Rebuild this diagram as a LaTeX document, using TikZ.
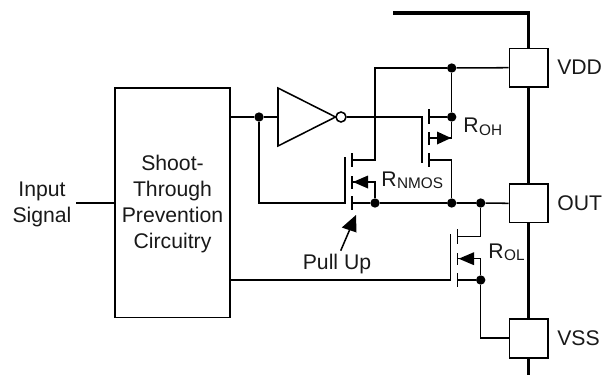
\documentclass[tikz,border=0pt]{standalone}
\usepackage{fontspec}
\setmainfont{Liberation Sans}
\usetikzlibrary{arrows.meta,calc}
\tikzset{
  wire/.style={line width=1.15pt,line cap=butt,black},
  bus/.style={line width=2.3pt,black},
  blockbox/.style={draw=black,line width=1.15pt,fill=white,inner sep=0pt,minimum width=29pt,minimum height=29pt},
  jn/.style={circle,fill=black,inner sep=0pt,minimum size=7pt},
  lbl/.style={inner sep=0pt,font=\fontsize{15.9}{19.5}\selectfont,text=black!90},
  sub/.style={inner sep=0pt,font=\fontsize{11.5}{13}\selectfont,text=black!90},
}
\begin{document}
\begin{tikzpicture}[x=0.75pt,y=-0.75pt]
\useasboundingbox (0,0) rectangle (602,375);
% bus
\coordinate (busStart) at (393,13);
\coordinate (busCorner) at (528.7,13);
\coordinate (busEnd) at (528.7,375);
\draw[bus] (busStart) -- (busCorner) -- (busEnd);
% pads
\node[blockbox] (vdd) at (528.7,67.7) {};
\node[blockbox] (out) at (528.7,203.3) {};
\node[blockbox] (vss) at (528.7,338.5) {};
\node[lbl,anchor=west] (vddL) at (557,67.7) {VDD};
\node[lbl,anchor=west] (outL) at (557,203.3) {OUT};
\node[lbl,anchor=west] (vssL) at (557,338.5) {VSS};
% main block
\node[draw=black,line width=1.15pt,fill=white,inner sep=0pt,minimum width=86.25pt,minimum height=172pt] (prev) at (172.5,202.6) {};
\node[lbl,align=center] (prevT) at (172.5,204) {Shoot-\\Through\\Prevention\\Circuitry};
\node[lbl,align=center] (inp) at (42,204.5) {Input\\Signal};
\coordinate (inpEnd) at (76,203);
\draw[wire] (inpEnd) -- (prev.west |- inpEnd);
% inverter
\coordinate (invA) at (278,88);
\coordinate (invB) at (278,146);
\coordinate (invC) at (335.5,117);
\coordinate (invIn) at (278,117);
\draw[wire] (invA) -- (invC) -- (invB) -- cycle;
\node[circle,draw=black,line width=1.15pt,fill=white,inner sep=0pt,minimum size=7.5pt] (bubble) at (341,117) {};
\node[jn] (jnA) at (259,117) {};
\coordinate (prevOut) at (230,117);
\draw[wire] (prevOut) -- (jnA) -- (invIn);
% high-side FET
\coordinate (hG) at (422,117);
\coordinate (hGb) at (422,163);
\coordinate (hD) at (429,117);
\coordinate (hA) at (429,138);
\coordinate (hS) at (429,160);
\node[jn] (jnVdd) at (451.7,68) {};
\node[jn] (jnH) at (451.7,117) {};
\coordinate (hAk) at (451.7,138);
\coordinate (hSk) at (451.7,160);
\node[jn] (jnOutA) at (451.7,203) {};
\node[jn] (jnOutB) at (480.7,203) {};
\node[jn] (jnR) at (375,203) {};
\draw[wire] (bubble.east) -- (hG) -- (hGb);
\foreach \ya/\yb in {109/124,132/145,153/167}{\draw[wire] (429,\ya) -- (429,\yb);}
\draw[wire] (hD) -- (jnH);
\draw[wire] (jnVdd) -- (jnH) -- (hAk);
\draw[wire] (hAk) -- (hA);
\fill (451,138) -- (437,131.5) -- (437,144.5) -- cycle;
\draw[wire] (hS) -- (hSk) -- (jnOutA);
% top rail
\coordinate (railL) at (375,68);
\coordinate (rNd) at (375,160);
\coordinate (rD) at (352,160);
\draw[wire] (vdd.west) -- (jnVdd) -- (railL) -- (rNd) -- (rD);
% pull-up FET
\coordinate (rG) at (345,203);
\coordinate (rGt) at (345,157);
\coordinate (rS) at (352,203);
\coordinate (rA) at (352,182);
\coordinate (rAk) at (375,182);
\coordinate (lp) at (259,203);
\draw[wire] (jnA) -- (lp) -- (rG) -- (rGt);
\foreach \ya/\yb in {153/167,176/189,196/210}{\draw[wire] (352,\ya) -- (352,\yb);}
\draw[wire] (rA) -- (rAk) -- (jnR);
\fill (353,182) -- (368,175.5) -- (368,188.5) -- cycle;
\draw[wire] (rS) -- (jnR) -- (jnOutA) -- (jnOutB) -- (out.west);
% low-side FET
\coordinate (lG) at (450.7,280);
\coordinate (lGt) at (450.7,234);
\coordinate (lD) at (457.7,236.7);
\coordinate (lDk) at (480.7,236.7);
\coordinate (lA) at (457.7,258.7);
\coordinate (lAk) at (480.7,258.7);
\coordinate (lS) at (457.7,280);
\node[jn] (jnL) at (480.7,280) {};
\coordinate (lV) at (480.7,338);
\coordinate (prevLow) at (230,280);
\draw[wire] (prevLow) -- (lG) -- (lGt);
\foreach \ya/\yb in {229/244,253/265,273/287}{\draw[wire] (457.7,\ya) -- (457.7,\yb);}
\draw[wire] (lD) -- (lDk) -- (jnOutB);
\draw[wire] (lA) -- (lAk) -- (jnL);
\fill (458.7,258.7) -- (474,252.2) -- (474,265.2) -- cycle;
\draw[wire] (lS) -- (jnL) -- (lV) -- (vss.west |- lV);
% labels
\node[lbl,anchor=base west] (rohR) at (463,132.7) {R};
\node[sub,anchor=base west,yshift=-2pt] at (rohR.base east) {OH};
\node[lbl,anchor=base west] (rnR) at (381,186) {R};
\node[sub,anchor=base west,yshift=-2pt] at (rnR.base east) {NMOS};
\node[lbl,anchor=base west] (rolR) at (488,258) {R};
\node[sub,anchor=base west,yshift=-2pt] at (rolR.base east) {OL};
\node[lbl,anchor=base] (pu) at (337,269) {Pull Up};
% pull-up pointer
\coordinate (puTail) at (340.7,250.7);
\coordinate (puTip) at (356,215);
\draw[wire] (puTail) -- ($(puTail)!0.7!(puTip)$);
\fill (puTip) -- (341.8,227.5) -- (356.5,232.5) -- cycle;
\end{tikzpicture}
\end{document}
